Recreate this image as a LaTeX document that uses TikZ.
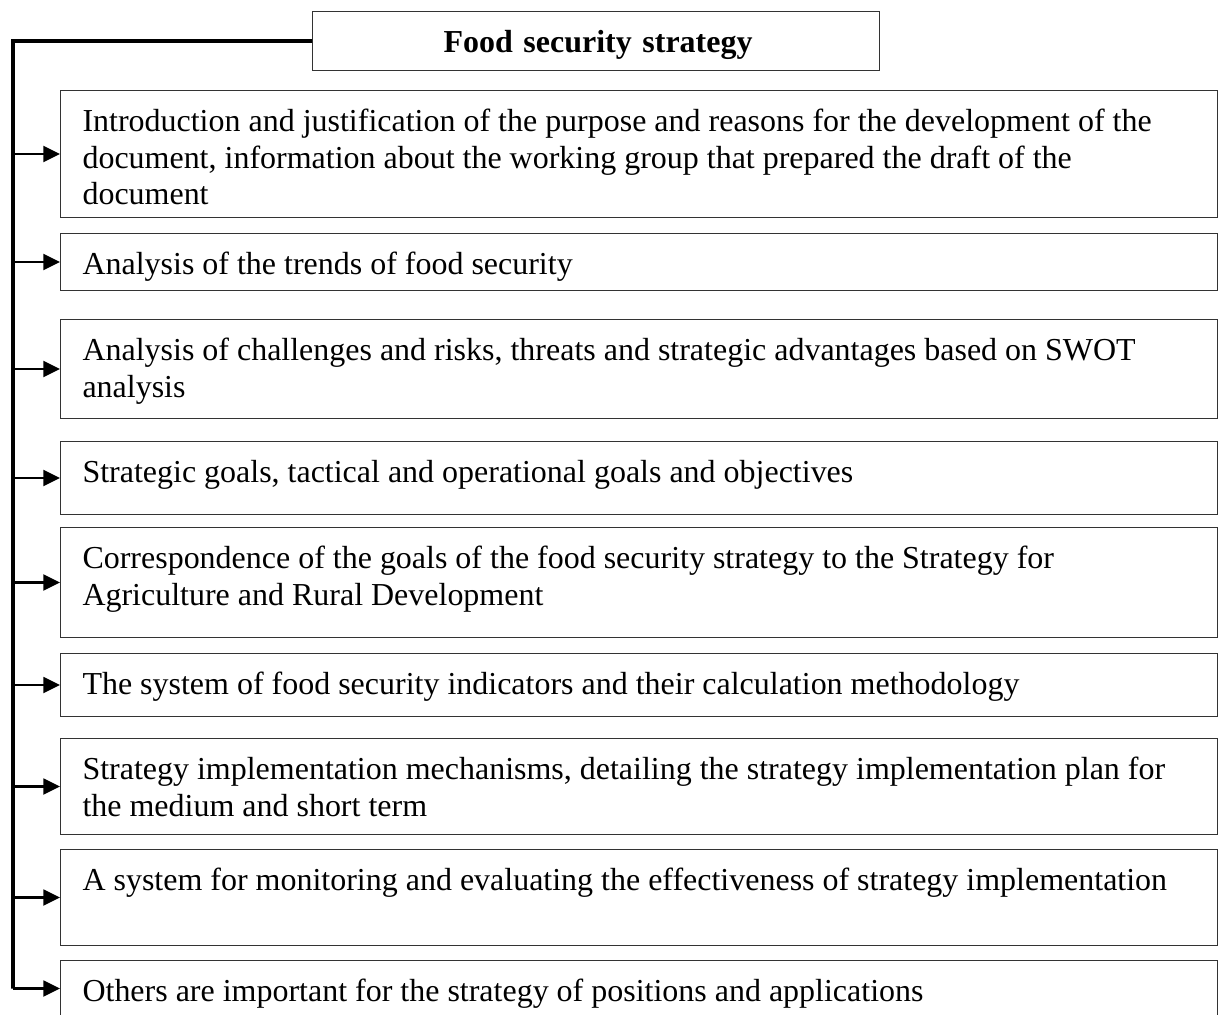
\documentclass[tikz,border=0pt]{standalone}
\usepackage{fontspec}
\setmainfont{Liberation Serif}
\usepackage{tikz}
\usetikzlibrary{arrows.meta,%
                shapes,positioning}

\newcommand{\entrytext}[2]{\parbox[t][#1][t]{22.26cm}{\raggedright\rule{0pt}{0.66cm}#2}}

\begin{document}
\begin{tikzpicture}[x=0.02cm,y=-0.02cm,
  entry/.style={draw=black!80,line width=0.6pt,anchor=north west,inner xsep=0.44cm,inner ysep=0.16cm,font=\fontsize{18.2pt}{20.8pt}\selectfont},
  heading/.style={draw=black!80,line width=0.6pt,anchor=north west,align=left,text width=6.82cm,inner xsep=2.26cm,inner ysep=0.1cm,text height=0.72cm,text depth=0.26cm,font=\fontsize{18.2pt}{20.8pt}\selectfont\bfseries},
  spine/.style={line width=2.2pt},
  link/.style={line width=1.5pt,-{Triangle[length=9.5pt,width=9pt]}}]
\useasboundingbox (0,0) rectangle (1219,1014);
%\draw[help lines] (0,0) grid (1219,1014);
\node[heading] (title) at (312,11) {\hspace*{0.36cm}Food security strategy};
\node[entry] (b1) at (60,90) {\entrytext{2.22cm}{Introduction and justification of the purpose and reasons for the development of the\\ document, information about the working group that prepared the draft of the\\ document}};
\node[entry] (b2) at (60,233) {\entrytext{0.82cm}{Analysis of the trends of food security}};
\node[entry] (b3) at (60,319) {\entrytext{1.66cm}{Analysis of challenges and risks, threats and strategic advantages based on SWOT\\ analysis}};
\node[entry] (b4) at (60,441) {\entrytext{1.14cm}{Strategic goals, tactical and operational goals and objectives}};
\node[entry] (b5) at (60,527) {\entrytext{1.88cm}{Correspondence of the goals of the food security strategy to the Strategy for\\ Agriculture and Rural Development}};
\node[entry] (b6) at (60,653) {\entrytext{0.94cm}{The system of food security indicators and their calculation methodology}};
\node[entry] (b7) at (60,738) {\entrytext{1.60cm}{Strategy implementation mechanisms, detailing the strategy implementation plan for\\ the medium and short term}};
\node[entry] (b8) at (60,849) {\entrytext{1.60cm}{A system for monitoring and evaluating the effectiveness of strategy implementation}};
\node[entry] (b9) at (60,960) {\entrytext{0.80cm}{Others are important for the strategy of positions and applications}};
\coordinate (trunk) at (13,41);
\draw[spine] (title.west) -- (trunk) -- (trunk |- b9.west);
\foreach \n in {1,...,9}
  \draw[link] (trunk |- b\n.west) -- (b\n.west);
\end{tikzpicture}
\end{document}
